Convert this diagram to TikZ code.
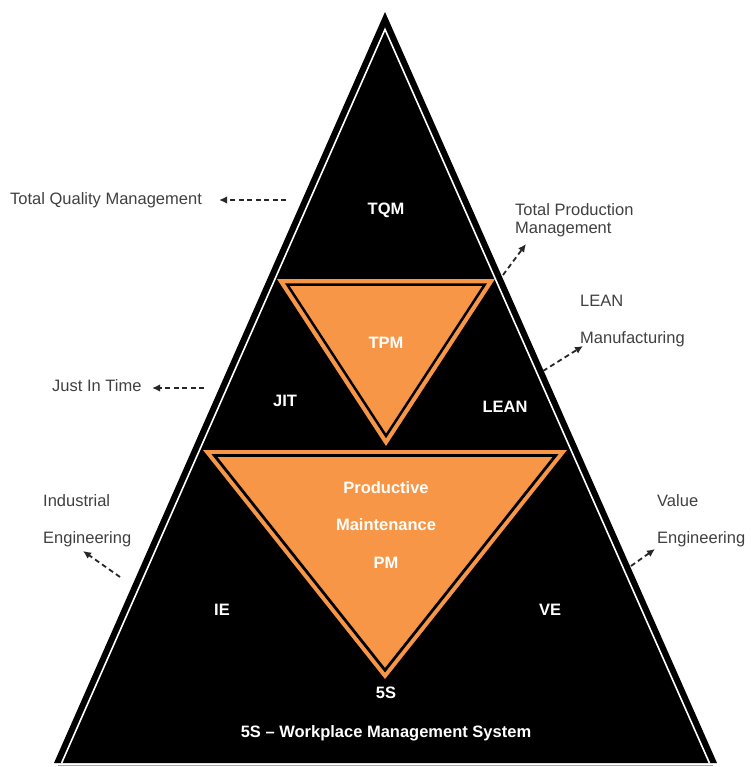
\documentclass[tikz,border=0pt]{standalone}
\usepackage{fontspec}
\setmainfont{Liberation Sans}
\usetikzlibrary{arrows.meta}

\definecolor{pmorange}{HTML}{F79646}
\definecolor{labelgray}{HTML}{404040}

\tikzset{
  inlabel/.style={text=white, inner sep=0pt, align=center,
    font=\fontsize{16.5}{37.5}\selectfont\bfseries},
  outlabel/.style={text=labelgray, inner sep=0pt, anchor=west, align=left,
    font=\fontsize{16.5}{37}\selectfont},
  callout/.style={draw=black!85, line width=1.8pt, dash pattern=on 5pt off 3.5pt,
    -{Latex[length=8pt,width=7.5pt]}}
}

\begin{document}
\begin{tikzpicture}[x=1pt, y=-1pt]
\useasboundingbox (0,0) rectangle (750,767);

% pyramid with white inner rim
\fill[black] (385,12) -- (54,763) -- (717,763) -- cycle;
\draw[white, line width=1.6pt] (61.6,763) -- (385,29.4) -- (709.4,763);
\draw[black!35, line width=1.2pt] (58,765.5) -- (713,765.5);

% TPM triangle
\fill[pmorange] (277,279) -- (495,279) -- (386,446) -- cycle;
\draw[black, line width=2.5pt] (287.2,284.5) -- (484.8,284.5) -- (386,435.9) -- cycle;

% PM triangle
\fill[pmorange] (203,450) -- (567,450) -- (385,679) -- cycle;
\draw[black, line width=2.8pt] (214.4,455.5) -- (555.6,455.5) -- (385,670.2) -- cycle;

\begin{scope}
    \node[inlabel] (TQM) at (386,210) {TQM};
    \node[inlabel] (TPM) at (386,343) {TPM};
    \node[inlabel] (JIT) at (285,401) {JIT};
    \node[inlabel] (LEAN) at (505,407) {LEAN};
    \node[inlabel] (PM) at (386,525) {Productive\\Maintenance\\PM};
    \node[inlabel] (IE) at (222,610) {IE};
    \node[inlabel] (VE) at (550,610) {VE};
    \node[inlabel] (FiveS) at (386,693) {5S};
    \node[inlabel] (WMS) at (386,733) {5S -- Workplace Management System};

    \node[outlabel] (tqm) at (10,200) {Total Quality Management};
    \node[outlabel, font=\fontsize{16.5}{18}\selectfont] (tpm) at (515,220)
        {Total Production\\Management};
    \node[outlabel] (lean) at (580,321) {LEAN\\Manufacturing};
    \node[outlabel] (jit) at (52,386) {Just In Time};
    \node[outlabel] (ie) at (43,521) {Industrial\\Engineering};
    \node[outlabel] (ve) at (657,521) {Value\\Engineering};
\end{scope}

% ends of the dashed callouts
\coordinate (tqmA) at (286,200);  \coordinate (tqmB) at (219,200);
\coordinate (tpmA) at (503,275);  \coordinate (tpmB) at (526,244);
\coordinate (leanA) at (543,371); \coordinate (leanB) at (583,346);
\coordinate (jitA) at (204,388);  \coordinate (jitB) at (152,388);
\coordinate (ieA) at (120,577);   \coordinate (ieB) at (83,551);
\coordinate (veA) at (631,566);   \coordinate (veB) at (655,549);

\begin{scope}[every edge/.style={callout}]
    \path (tqmA) edge (tqmB);
    \path (tpmA) edge (tpmB);
    \path (leanA) edge (leanB);
    \path (jitA) edge (jitB);
    \path (ieA) edge (ieB);
    \path (veA) edge (veB);
\end{scope}
\end{tikzpicture}
\end{document}
